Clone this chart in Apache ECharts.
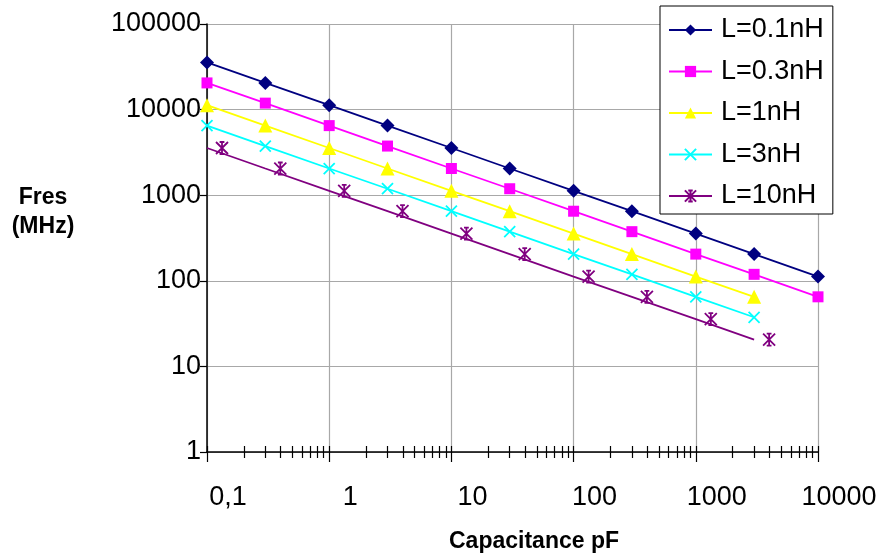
<!DOCTYPE html>
<html>
<head>
<meta charset="utf-8">
<script src="https://cdn.jsdelivr.net/npm/echarts@6/dist/echarts.min.js"></script>
<style>
html,body{margin:0;padding:0;background:#fff;}
#chart{width:882px;height:559px;}
</style>
</head>
<body>
<div id="chart"></div>
<script>
// Capacitance positions on the x axis (pF)
const capValues = [0.1, 0.3, 1, 3, 10, 30, 100, 300, 1000, 3000, 10000];
// Resonance frequency (MHz)
const fresL01 = [35600, 20500, 11250, 6500, 3560, 2050, 1125, 650, 356, 205, 112];
const fresL03 = [20500, 11900, 6500, 3750, 2050, 1190, 650, 375, 205, 119, 65];
const fresL1  = [11250, 6500, 3560, 2050, 1125, 650, 356, 205, 112, 65];
const fresL3  = [6500, 3750, 2050, 1190, 650, 375, 205, 119, 65, 37.5];
const fresL10 = [3560, 2050, 1125, 650, 356, 205, 112, 65, 35.6, 20.5];
const seriesNames = ['L=0.1nH', 'L=0.3nH', 'L=1nH', 'L=3nH', 'L=10nH'];
const xTickLabels = ['0,1', '1', '10', '100', '1000', '10000'];
const yTickLabels = ['1', '10', '100', '1000', '10000', '100000'];

// minor tick positions (2..9 in each decade)
const minorTicks = [];
for (let d = -1; d < 4; d++) {
  for (let k = 2; k <= 9; k++) minorTicks.push(+(k * Math.pow(10, d)).toPrecision(3));
}
const majorTicks = [0.1, 1, 10, 100, 1000, 10000];
const allTicks = majorTicks.concat(minorTicks);

function pairs(vals) { return vals.map((v, i) => [capValues[i], v]); }

const FONT = '"Liberation Sans", Arial, sans-serif';
const XMARK = 'path://M0,0L10,10M0,10L10,0';
const STAR = 'path://M0,0L10,10M0,10L10,0M5,0L5,10M3,0L7,0M3,10L7,10';

function xLabel(v) {
  const idx = majorTicks.findIndex(t => Math.abs(Math.log10(t) - Math.log10(v)) < 1e-6);
  return idx >= 0 ? xTickLabels[idx] : '';
}
function yLabel(v) {
  const idx = Math.round(Math.log10(v));
  return yTickLabels[idx] !== undefined ? yTickLabels[idx] : '';
}

const chart = echarts.init(document.getElementById('chart'), null, {renderer: 'canvas'});

const baseX = {
  type: 'log', logBase: 10, min: 0.1, max: 10000, position: 'bottom', gridIndex: 0
};

chart.setOption({
  animation: false,
  backgroundColor: '#ffffff',
  grid: {left: 207, top: 24, right: 64, bottom: 107, containLabel: false},
  legend: {
    orient: 'vertical',
    left: 660, top: 6,
    padding: [10, 9, 4, 8],
    itemGap: 13.5,
    itemWidth: 43,
    itemHeight: 14,
    backgroundColor: '#ffffff',
    borderColor: '#000000',
    borderWidth: 1,
    borderRadius: 0,
    textStyle: {fontFamily: FONT, fontSize: 27, color: '#000', lineHeight: 28, padding: [0, 0, 0, 4]},
    data: seriesNames
  },
  xAxis: [
    Object.assign({}, baseX, {
      axisLine: {show: true, lineStyle: {color: '#000', width: 1.5}},
      axisTick: {show: true, inside: false, length: 10, lineStyle: {color: '#000', width: 1.2}},
      axisLabel: {
        show: true, margin: 32, fontFamily: FONT, fontSize: 27, color: '#000',
        padding: [0, 0, 0, 42], showMinLabel: true, showMaxLabel: true,
        formatter: xLabel
      },
      splitLine: {show: true, lineStyle: {color: '#a8a8a8', width: 1.2}},
      minorTick: {show: false}
    }),
    Object.assign({}, baseX, {
      axisLine: {show: false},
      axisLabel: {show: false},
      splitLine: {show: false},
      axisTick: {show: true, inside: true, length: 6, customValues: allTicks, lineStyle: {color: '#000', width: 1.2}}
    }),
    Object.assign({}, baseX, {
      axisLine: {show: false},
      axisLabel: {show: false},
      splitLine: {show: false},
      axisTick: {show: true, inside: false, length: 6, customValues: minorTicks, lineStyle: {color: '#000', width: 1.2}}
    })
  ],
  yAxis: {
    type: 'log', logBase: 10, min: 1, max: 100000,
    axisLine: {show: true, lineStyle: {color: '#000', width: 1.5}},
    axisTick: {show: true, inside: false, length: 7, lineStyle: {color: '#000', width: 1.2}},
    axisLabel: {margin: 6, fontFamily: FONT, fontSize: 27, color: '#000', formatter: yLabel},
    splitLine: {show: true, lineStyle: {color: '#a8a8a8', width: 1.2}}
  },
  graphic: [
    {type: 'text', x: 43, y: 198, style: {text: 'Fres', fontFamily: FONT, fontSize: 23, fontWeight: 'bold', fill: '#000', align: 'center', verticalAlign: 'middle'}},
    {type: 'text', x: 43, y: 227, style: {text: '(MHz)', fontFamily: FONT, fontSize: 23, fontWeight: 'bold', fill: '#000', align: 'center', verticalAlign: 'middle'}},
    {type: 'text', x: 534, y: 542, style: {text: 'Capacitance pF', fontFamily: FONT, fontSize: 23, fontWeight: 'bold', fill: '#000', align: 'center', verticalAlign: 'middle'}}
  ],
  series: [
    {
      name: seriesNames[0], type: 'line', xAxisIndex: 0, data: pairs(fresL01),
      symbol: 'diamond', symbolSize: 14,
      lineStyle: {color: '#000080', width: 1.8},
      itemStyle: {color: '#000080'}
    },
    {
      name: seriesNames[1], type: 'line', xAxisIndex: 0, data: pairs(fresL03),
      symbol: 'rect', symbolSize: 11,
      lineStyle: {color: '#FF00FF', width: 1.8},
      itemStyle: {color: '#FF00FF'}
    },
    {
      name: seriesNames[2], type: 'line', xAxisIndex: 0, data: pairs(fresL1),
      symbol: 'triangle', symbolSize: 14,
      lineStyle: {color: '#FFFF00', width: 1.8},
      itemStyle: {color: '#FFFF00'}
    },
    {
      name: seriesNames[3], type: 'line', xAxisIndex: 0, data: pairs(fresL3),
      symbol: XMARK, symbolSize: 11,
      lineStyle: {color: '#00FFFF', width: 1.8},
      itemStyle: {color: 'transparent', borderColor: '#00FFFF', borderWidth: 1.8}
    },
    {
      name: seriesNames[4], type: 'line', xAxisIndex: 0, data: pairs(fresL10),
      symbol: STAR, symbolSize: 12, symbolOffset: [15, 0],
      lineStyle: {color: '#800080', width: 1.8},
      itemStyle: {color: 'transparent', borderColor: '#800080', borderWidth: 1.8}
    }
  ]
});
</script>
</body>
</html>
